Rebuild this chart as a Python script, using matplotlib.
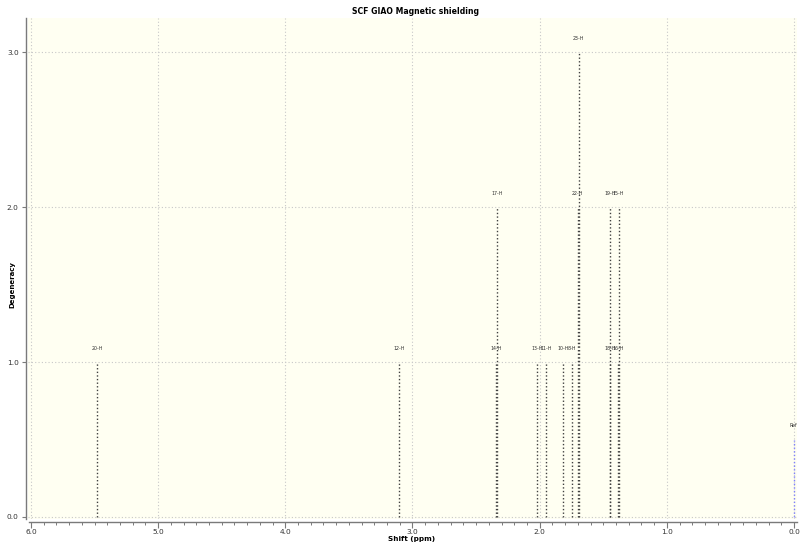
import matplotlib
matplotlib.use('Agg')
import matplotlib.pyplot as plt
from matplotlib.ticker import MultipleLocator

# Picos calculados (ppm), degeneracion y etiqueta de cada atomo
desplazamientos = [5.480, 3.105, 2.340, 2.332, 2.018, 1.950, 1.814, 1.748,
                   1.700, 1.693, 1.449, 1.445, 1.383, 1.379]
degeneracion = [1, 1, 1, 2, 1, 1, 1, 1, 2, 3, 1, 2, 1, 2]
etiquetas = ['20-H', '12-H', '14-H', '17-H', '13-H', '11-H', '10-H', '8-H',
             '22-H', '23-H', '18-H', '19-H', '16-H', '15-H']

# Referencia
ref_shift = 0.0
ref_altura = 0.5
ref_etiqueta = 'Ref'

fig = plt.figure(figsize=(8.0, 5.43), dpi=100)
ax = fig.add_axes([28.5 / 800, 24 / 543, 768 / 800, 501 / 543])
ax.set_facecolor('#fffff2')

estilo = dict(linestyle=(0, (1, 1.6)), linewidth=1.0)

# Lineas de cada pico
for x, h, lab in zip(desplazamientos, degeneracion, etiquetas):
    ax.vlines(x, 0, h, color='#404040', **estilo)
    ax.text(x, h + 0.09, lab, fontsize=3.4, ha='center', va='center',
            color='#303030')

ax.vlines(ref_shift, 0, ref_altura, color='#7f7fff', **estilo)
ax.text(ref_shift + 0.005, ref_altura + 0.09, ref_etiqueta, fontsize=3.4,
        ha='center', va='center', color='#303030')

ax.set_xlim(6.02, -0.02)
ax.set_ylim(-0.013, 3.22)

ax.xaxis.set_major_locator(MultipleLocator(1.0))
ax.xaxis.set_minor_locator(MultipleLocator(0.1))
ax.yaxis.set_major_locator(MultipleLocator(1.0))
ax.xaxis.set_major_formatter(plt.FormatStrFormatter('%.1f'))
ax.yaxis.set_major_formatter(plt.FormatStrFormatter('%.1f'))

ax.grid(True, which='major', color='#c8c8c8', linestyle=(0, (1, 2)),
        linewidth=0.8)
ax.set_axisbelow(True)

for lado in ['top', 'right']:
    ax.spines[lado].set_visible(False)
for lado in ['left', 'bottom']:
    ax.spines[lado].set_position(('outward', 2))
    ax.spines[lado].set_color('#7a7a7a')
    ax.spines[lado].set_linewidth(1.0)

ax.tick_params(axis='both', which='major', labelsize=5.3, length=3,
               width=0.8, color='#7a7a7a', labelcolor='#333333', pad=2)
ax.tick_params(axis='x', which='minor', length=2, width=0.7,
               color='#7a7a7a')
ax.tick_params(axis='x', which='major', length=4, pad=1)

fig.text(415 / 800, 0.978, 'SCF GIAO Magnetic shielding', ha='center',
         va='center', fontsize=5.6, fontweight='bold')
fig.text(412 / 800, 1 - 538.5 / 543, 'Shift (ppm)', ha='center',
         va='center', fontsize=5.2, fontweight='bold')
fig.text(12 / 800, 1 - 284 / 543, 'Degeneracy', ha='center', va='center',
         rotation=90, fontsize=5.0, fontweight='bold')

fig.savefig('out.png', dpi=100, facecolor='white')
